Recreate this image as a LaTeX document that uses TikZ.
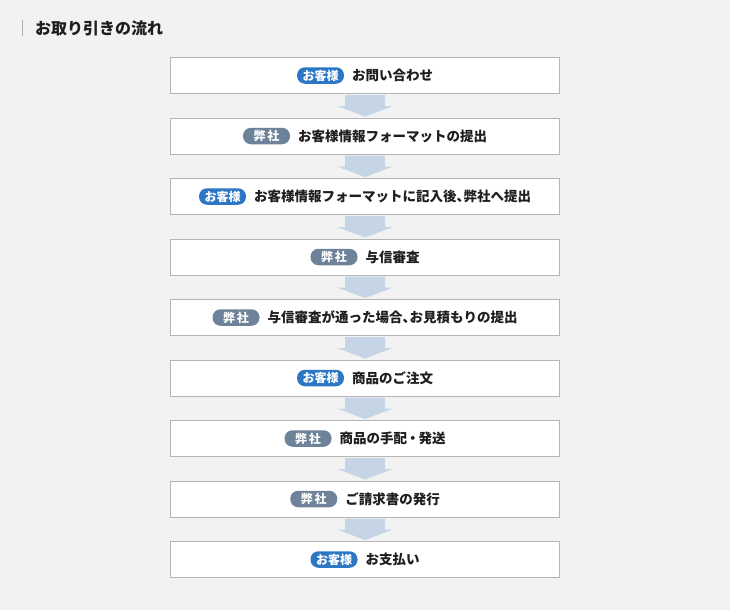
\documentclass[tikz,border=0pt]{standalone}
\usepackage{fontspec}
\newfontfamily\jp{Noto Sans CJK JP}
\usetikzlibrary{calc}
\definecolor{bg}{HTML}{F2F2F2}
\definecolor{boxline}{HTML}{B5B5B5}
\definecolor{custblue}{HTML}{2C77C5}
\definecolor{ourgray}{HTML}{6E8399}
\definecolor{arrowblue}{HTML}{C6D5E5}
\definecolor{ink}{HTML}{1E1E1E}
\definecolor{titlebar}{HTML}{B0B0B0}
\tikzset{
  stepbox/.style={draw=boxline, line width=1pt, fill=white, minimum width=389pt, minimum height=36pt, inner sep=0pt},
  rowtext/.style={inner sep=0pt, text=ink, font=\jp\bfseries\fontsize{13.5}{14}\selectfont},
  badgebase/.style={rounded corners=8pt, minimum width=47pt, minimum height=16.5pt, inner sep=0pt, text=white, font=\jp\bfseries\fontsize{12}{12}\selectfont},
  cust/.style={badgebase, fill=custblue},
  ours/.style={badgebase, fill=ourgray},
  arrowfill/.style={fill=arrowblue},
  titletext/.style={inner sep=0pt, text=ink, font=\jp\bfseries\fontsize{16}{16}\selectfont}
}
\newcommand\flowstep[5]{%
  \node[stepbox] (box#1) at (365,#2) {};
  \node[rowtext, anchor=base] (txt#1) at ($(box#1.center)+(0,5)$) {\hspace*{55pt}#5};
  \node[#3, anchor=west] (badge#1) at (txt#1.base west |- box#1.center) {#4};
}
\newcommand\flowarrow[2]{%
  \fill[arrowfill] ($(box#1.south)+(-20,1)$) -- ($(box#1.south)+(20,1)$) -- ($(box#1.south)+(20,12)$) -- ($(box#1.south)+(28,12)$) -- ($(box#2.north)+(0,-1)$) -- ($(box#1.south)+(-28,12)$) -- ($(box#1.south)+(-20,12)$) -- cycle;
}
\newcommand\cust{お客様}
\newcommand\ours{弊\hspace{2pt}社}
\newcommand\tou{、\hspace{-6.5pt}}
\newcommand\naka{\hspace{-1pt}・\hspace{-1pt}}
\begin{document}
\begin{tikzpicture}[x=1pt, y=-1pt]
  \fill[bg] (0,0) rectangle (730,610);
  \useasboundingbox (0,0) rectangle (730,610);
  \draw[titlebar, line width=1pt] (22,20) -- (22,36);
  \node[titletext, anchor=west] (title) at (35,28) {お取り引きの流れ};
  \flowstep{1}{75.5}{cust}{\cust}{お問い合わせ}
  \flowstep{2}{136}{ours}{\ours}{お客様情報フォーマットの提出}
  \flowstep{3}{196.5}{cust}{\cust}{お客様情報フォーマットに記入後\tou 弊社へ提出}
  \flowstep{4}{257}{ours}{\ours}{与信審査}
  \flowstep{5}{317.5}{ours}{\ours}{与信審査が通った場合\tou お見積もりの提出}
  \flowstep{6}{378}{cust}{\cust}{商品のご注文}
  \flowstep{7}{438.5}{ours}{\ours}{商品の手配\naka 発送}
  \flowstep{8}{499}{ours}{\ours}{ご請求書の発行}
  \flowstep{9}{559.5}{cust}{\cust}{お支払い}
  \flowarrow{1}{2}
  \flowarrow{2}{3}
  \flowarrow{3}{4}
  \flowarrow{4}{5}
  \flowarrow{5}{6}
  \flowarrow{6}{7}
  \flowarrow{7}{8}
  \flowarrow{8}{9}
\end{tikzpicture}
\end{document}
